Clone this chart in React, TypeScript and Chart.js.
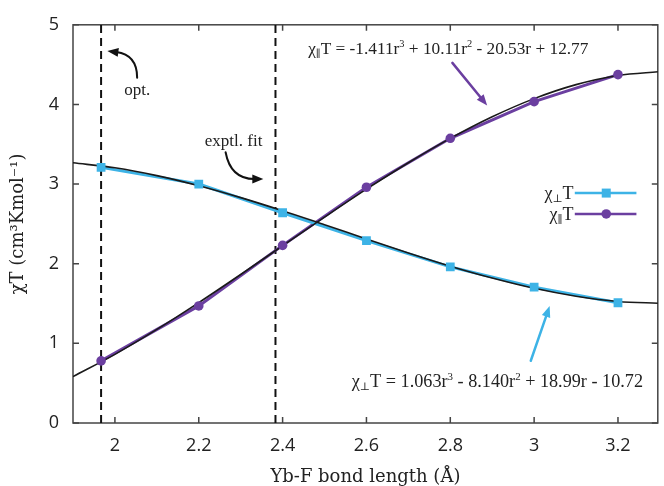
import React, { useEffect, useRef } from 'react';
import { Chart, registerables } from 'chart.js';

Chart.register(...registerables);

// ---- data ----
const bondLengths = [1.967, 2.2, 2.4, 2.6, 2.8, 3.0, 3.2];
const chiPerp = [3.21, 3.0, 2.64, 2.29, 1.96, 1.705, 1.51];
const chiPar = [0.78, 1.47, 2.23, 2.96, 3.575, 4.035, 4.375];

const fitR = [1.9, 2.0, 2.1, 2.2, 2.3, 2.4, 2.5, 2.6, 2.7, 2.8, 2.9, 3.0, 3.1, 3.2, 3.3];
const fitPerp = [3.267, 3.204, 3.106, 2.979, 2.83, 2.665, 2.489, 2.311, 2.135, 1.969, 1.82, 1.691, 1.592, 1.526, 1.503];
const fitPar = [0.582, 0.862, 1.175, 1.512, 1.865, 2.226, 2.585, 2.936, 3.268, 3.574, 3.845, 4.073, 4.249, 4.364, 4.412];

const refLines = [1.967, 2.383]; // opt. and exptl. fit bond lengths
const xTicks = [2, 2.2, 2.4, 2.6, 2.8, 3, 3.2];
const yTicks = [0, 1, 2, 3, 4, 5];

const BLUE = '#3db3e6';
const PURPLE = '#6b3fa0';
const SERIF = "'Liberation Serif', 'DejaVu Serif', serif";
const TEXT = '#222';

type Seg = { t: string; s?: 'sup' | 'sub' };

function drawRich(ctx: CanvasRenderingContext2D, segs: Seg[], x: number, yCenter: number, size: number, align: 'left' | 'right' | 'center') {
  const parts = segs.map((seg) => {
    const fs = seg.s ? size * 0.6 : size;
    ctx.font = `${fs}px ${SERIF}`;
    return { ...seg, fs, w: ctx.measureText(seg.t).width };
  });
  const total = parts.reduce((a, p) => a + p.w, 0);
  let cx = align === 'right' ? x - total : align === 'center' ? x - total / 2 : x;
  const base = yCenter + size * 0.33;
  ctx.textBaseline = 'alphabetic';
  ctx.textAlign = 'left';
  for (const p of parts) {
    ctx.font = `${p.fs}px ${SERIF}`;
    const dy = p.s === 'sup' ? -size * 0.38 : p.s === 'sub' ? size * 0.18 : 0;
    ctx.fillText(p.t, cx, base + dy);
    cx += p.w;
  }
}

type Pt = { x: number; y: number };
function drawArrow(ctx: CanvasRenderingContext2D, p0: Pt, c: Pt | null, p1: Pt, color: string, lw: number, head = 11) {
  const from = c ?? p0;
  let dx = p1.x - from.x;
  let dy = p1.y - from.y;
  const len = Math.hypot(dx, dy) || 1;
  dx /= len;
  dy /= len;
  const bx = p1.x - dx * head;
  const by = p1.y - dy * head;
  ctx.save();
  ctx.strokeStyle = color;
  ctx.fillStyle = color;
  ctx.lineWidth = lw;
  ctx.lineCap = 'round';
  ctx.beginPath();
  ctx.moveTo(p0.x, p0.y);
  if (c) ctx.quadraticCurveTo(c.x, c.y, bx + dx * 2, by + dy * 2);
  else ctx.lineTo(bx + dx * 2, by + dy * 2);
  ctx.stroke();
  ctx.beginPath();
  ctx.moveTo(p1.x, p1.y);
  ctx.lineTo(bx - dy * head * 0.4, by + dx * head * 0.4);
  ctx.lineTo(bx + dy * head * 0.4, by - dx * head * 0.4);
  ctx.closePath();
  ctx.fill();
  ctx.restore();
}

const decorPlugin = {
  id: 'decor',
  beforeDatasetsDraw(chart: any) {
    const { ctx, chartArea: a, scales } = chart;
    const x = scales.x;
    const y = scales.y;
    ctx.save();
    ctx.strokeStyle = '#444';
    ctx.lineWidth = 1.5;
    ctx.strokeRect(a.left, a.top, a.right - a.left, a.bottom - a.top);
    ctx.beginPath();
    for (const v of xTicks) {
      const px = x.getPixelForValue(v);
      ctx.moveTo(px, a.bottom);
      ctx.lineTo(px, a.bottom - 6);
      ctx.moveTo(px, a.top);
      ctx.lineTo(px, a.top + 6);
    }
    for (const v of yTicks) {
      const py = y.getPixelForValue(v);
      ctx.moveTo(a.left, py);
      ctx.lineTo(a.left + 6, py);
      ctx.moveTo(a.right, py);
      ctx.lineTo(a.right - 6, py);
    }
    ctx.stroke();
    ctx.restore();
  },
  afterDatasetsDraw(chart: any) {
    const { ctx, scales } = chart;
    const x = scales.x;
    const y = scales.y;
    const P = (xv: number, yv: number): Pt => ({ x: x.getPixelForValue(xv), y: y.getPixelForValue(yv) });
    ctx.save();
    ctx.fillStyle = TEXT;

    // opt. annotation
    drawRich(ctx, [{ t: 'opt.' }], P(2.053, 4.186).x, P(2.053, 4.186).y, 17, 'center');
    drawArrow(ctx, P(2.053, 4.335), P(2.053, 4.622), P(1.982, 4.672), '#111', 2);

    // exptl. fit annotation
    ctx.fillStyle = TEXT;
    drawRich(ctx, [{ t: 'exptl. fit' }], P(2.283, 3.55).x, P(2.283, 3.55).y, 17, 'center');
    drawArrow(ctx, P(2.264, 3.4), P(2.276, 3.064), P(2.354, 3.064), '#111', 2);

    // equations
    ctx.fillStyle = TEXT;
    const top = P(2.461, 4.709);
    drawRich(ctx, [
      { t: 'χ' }, { t: '∥', s: 'sub' }, { t: 'T = -1.411r' }, { t: '3', s: 'sup' },
      { t: ' + 10.11r' }, { t: '2', s: 'sup' }, { t: ' - 20.53r + 12.77' },
    ], top.x, top.y, 17.3, 'left');
    const bot = P(2.565, 0.532);
    drawRich(ctx, [
      { t: 'χ' }, { t: '⊥', s: 'sub' }, { t: 'T = 1.063r' }, { t: '3', s: 'sup' },
      { t: ' - 8.140r' }, { t: '2', s: 'sup' }, { t: ' + 18.99r - 10.72' },
    ], bot.x, bot.y, 18.2, 'left');

    drawArrow(ctx, P(2.805, 4.522), null, P(2.888, 3.986), PURPLE, 2.5);
    drawArrow(ctx, P(2.992, 0.782), null, P(3.037, 1.468), BLUE, 2.5);

    // legend
    const rows: { segs: Seg[]; color: string; yv: number; style: 'rect' | 'circle' }[] = [
      { segs: [{ t: 'χ' }, { t: '⊥', s: 'sub' }, { t: 'T' }], color: BLUE, yv: 2.887, style: 'rect' },
      { segs: [{ t: 'χ' }, { t: '∥', s: 'sub' }, { t: 'T' }], color: PURPLE, yv: 2.625, style: 'circle' },
    ];
    for (const r of rows) {
      const tp = P(3.094, r.yv);
      ctx.fillStyle = TEXT;
      drawRich(ctx, r.segs, tp.x, tp.y, 18, 'right');
      const l0 = P(3.097, r.yv);
      const l1 = P(3.244, r.yv);
      ctx.strokeStyle = r.color;
      ctx.lineWidth = 2.5;
      ctx.beginPath();
      ctx.moveTo(l0.x, l0.y);
      ctx.lineTo(l1.x, l1.y);
      ctx.stroke();
      const m = P(3.172, r.yv);
      ctx.fillStyle = r.color;
      ctx.beginPath();
      if (r.style === 'rect') ctx.rect(m.x - 4.5, m.y - 4.5, 9, 9);
      else ctx.arc(m.x, m.y, 4.8, 0, Math.PI * 2);
      ctx.fill();
    }
    ctx.restore();
  },
};

export default function App() {
  const ref = useRef<HTMLCanvasElement | null>(null);
  useEffect(() => {
    document.body.style.margin = '0';
    if (!ref.current) return;
    const perpPts = bondLengths.map((r, i) => ({ x: r, y: chiPerp[i] }));
    const parPts = bondLengths.map((r, i) => ({ x: r, y: chiPar[i] }));
    const chart = new Chart(ref.current, {
      type: 'scatter',
      data: {
        datasets: [
          // markers (top)
          { data: perpPts, showLine: false, pointStyle: 'rect', pointRadius: 6.2, backgroundColor: BLUE, borderColor: BLUE, borderWidth: 0, order: 0 },
          { data: parPts, showLine: false, pointStyle: 'circle', pointRadius: 4.8, backgroundColor: PURPLE, borderColor: PURPLE, borderWidth: 0, order: 0 },
          // fit curves
          { data: fitR.map((r, i) => ({ x: r, y: fitPerp[i] })), showLine: true, pointRadius: 0, borderColor: '#1a1a1a', borderWidth: 1.6, cubicInterpolationMode: 'monotone', order: 1 },
          { data: fitR.map((r, i) => ({ x: r, y: fitPar[i] })), showLine: true, pointRadius: 0, borderColor: '#1a1a1a', borderWidth: 1.6, cubicInterpolationMode: 'monotone', order: 1 },
          // data lines
          { data: perpPts, showLine: true, pointRadius: 0, borderColor: BLUE, borderWidth: 3, order: 2 },
          { data: parPts, showLine: true, pointRadius: 0, borderColor: PURPLE, borderWidth: 3, order: 2 },
          // dashed reference lines
          ...refLines.map((r) => ({
            data: [{ x: r, y: 0 }, { x: r, y: 5 }], showLine: true, pointRadius: 0,
            borderColor: '#111', borderWidth: 2, borderDash: [8, 5], order: 3,
          })),
        ] as any,
      },
      options: {
        animation: false,
        responsive: false,
        maintainAspectRatio: false,
        events: [],
        layout: { padding: { top: 21, right: 2, left: 0, bottom: 0 } },
        plugins: { legend: { display: false }, tooltip: { enabled: false } },
        scales: {
          x: {
            type: 'linear', min: 1.9, max: 3.295,
            afterBuildTicks: (s: any) => { s.ticks = xTicks.map((v) => ({ value: v })); },
            afterFit: (s: any) => { s.height = 63; },
            grid: { display: false, drawTicks: false },
            border: { display: false },
            ticks: { font: { family: "'Open Sans', sans-serif", size: 18 }, color: TEXT, padding: 12, callback: (v: any) => String(v) },
            title: { display: true, text: 'Yb-F bond length (Å)', color: TEXT, font: { family: "'DejaVu Serif', serif", size: 18 }, padding: { top: 0, bottom: -2 } },
          },
          y: {
            type: 'linear', min: 0, max: 5,
            afterFit: (s: any) => { s.width = 73; },
            grid: { display: false, drawTicks: false },
            border: { display: false },
            ticks: { stepSize: 1, font: { family: "'Open Sans', sans-serif", size: 18 }, color: TEXT, padding: 14 },
            title: { display: true, text: 'χT (cm³Kmol⁻¹)', color: TEXT, font: { family: "'DejaVu Serif', serif", size: 18 }, padding: { top: 8, bottom: 0 } },
          },
        },
      } as any,
      plugins: [decorPlugin],
    });
    return () => chart.destroy();
  }, []);
  return <canvas ref={ref} width={664} height={486} style={{ display: 'block' }} />;
}
